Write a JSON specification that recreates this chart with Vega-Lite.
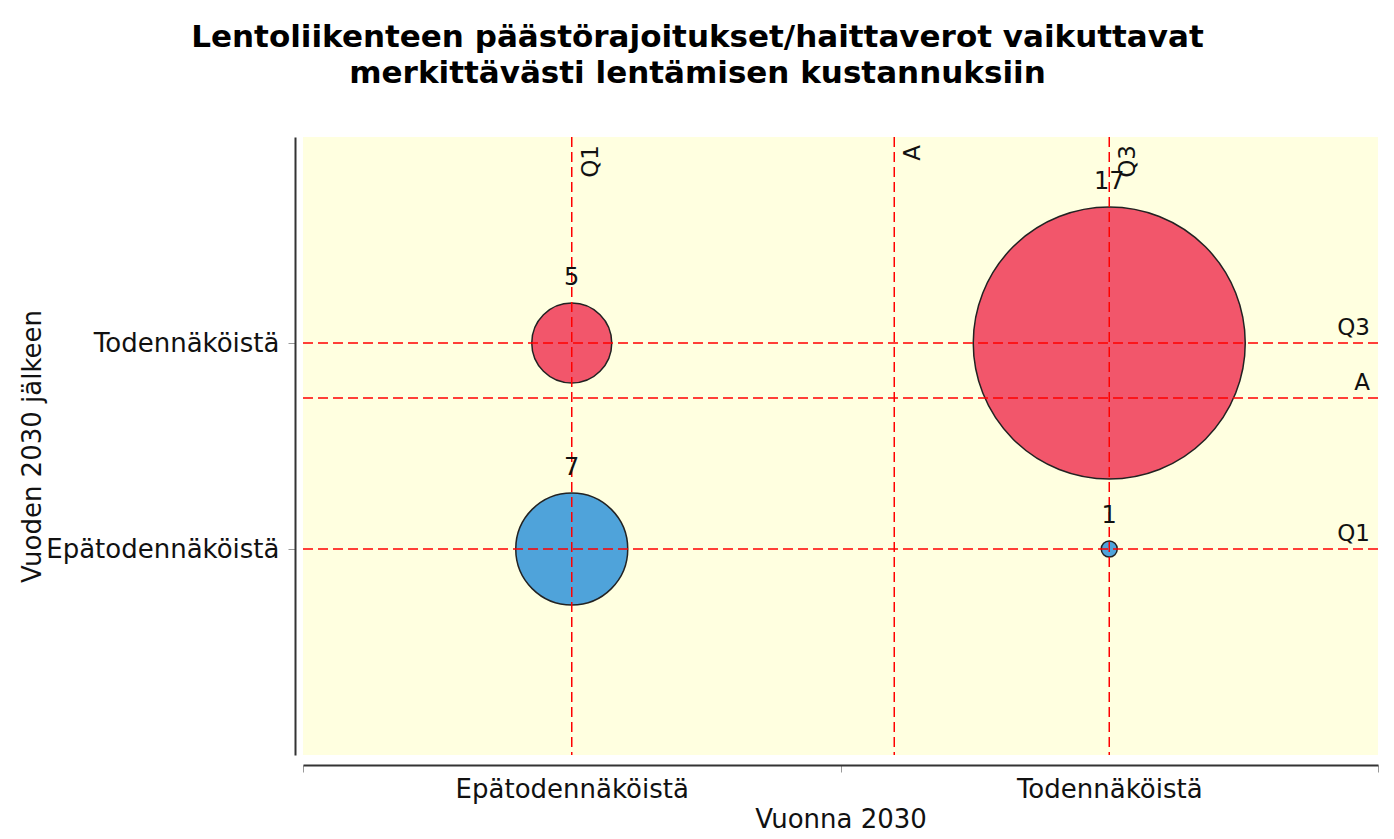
{
  "$schema": "https://vega.github.io/schema/vega-lite/v6.json",
  "width": 1075,
  "height": 618,
  "autosize": {"type": "none"},
  "padding": {"left": 303, "top": 137, "right": 16, "bottom": 84},
  "background": "white",
  "title": {
    "text": ["Lentoliikenteen päästörajoitukset/haittaverot vaikuttavat", "merkittävästi lentämisen kustannuksiin"],
    "font": "DejaVu Sans",
    "fontSize": 31,
    "fontWeight": "bold",
    "lineHeight": 36,
    "anchor": "middle",
    "frame": "group",
    "dx": -143,
    "offset": 46,
    "color": "#000000"
  },
  "config": {
    "view": {"fill": "#ffffe0", "stroke": null},
    "font": "DejaVu Sans",
    "axis": {
      "labelFont": "DejaVu Sans",
      "titleFont": "DejaVu Sans",
      "labelFontSize": 26,
      "titleFontSize": 26,
      "titleFontWeight": "normal",
      "labelColor": "#111111",
      "titleColor": "#111111",
      "domainColor": "#333333",
      "domainWidth": 2,
      "tickColor": "#999999",
      "tickSize": 7,
      "grid": false,
      "labelOverlap": false,
      "labelLimit": 0
    }
  },
  "datasets": {
    "bubbles": [
      {"vuonna": 0, "jalkeen": 1, "count": 5, "ryhma": "Todennäköistä"},
      {"vuonna": 1, "jalkeen": 1, "count": 17, "ryhma": "Todennäköistä"},
      {"vuonna": 0, "jalkeen": 0, "count": 7, "ryhma": "Epätodennäköistä"},
      {"vuonna": 1, "jalkeen": 0, "count": 1, "ryhma": "Epätodennäköistä"}
    ],
    "vlines": [
      {"v": 0, "label": "Q1"},
      {"v": 0.6, "label": "A"},
      {"v": 1, "label": "Q3"}
    ],
    "hlines": [
      {"v": 1, "label": "Q3"},
      {"v": 0.7333, "label": "A"},
      {"v": 0, "label": "Q1"}
    ]
  },
  "layer": [
    {
      "data": {"name": "bubbles"},
      "mark": {"type": "circle", "opacity": 1, "stroke": "#222222", "strokeWidth": 1.5},
      "encoding": {
        "x": {
          "field": "vuonna", "type": "quantitative", "title": "Vuonna 2030",
          "scale": {"domain": [-0.5, 1.5], "nice": false, "zero": false},
          "axis": {
            "values": [-0.5, 0, 0.5, 1, 1.5],
            "labelExpr": "datum.value == 0 ? 'Epätodennäköistä' : datum.value == 1 ? 'Todennäköistä' : ''",
            "tickOpacity": {"condition": {"test": "datum.value == 0 || datum.value == 1", "value": 0}, "value": 1},
            "offset": 10,
            "labelPadding": 4,
            "titlePadding": 4,
            "labelFlush": false
          }
        },
        "y": {
          "field": "jalkeen", "type": "quantitative", "title": "Vuoden 2030 jälkeen",
          "scale": {"domain": [-1, 2], "nice": false, "zero": false},
          "axis": {
            "values": [0, 1],
            "labelExpr": "datum.value == 1 ? 'Todennäköistä' : datum.value == 0 ? 'Epätodennäköistä' : ''",
            "offset": 8,
            "labelPadding": 9,
            "titleX": -263,
            "titleY": 309,
            "titleAngle": 270,
            "titleAlign": "center",
            "titleBaseline": "middle"
          }
        },
        "size": {
          "field": "count", "type": "quantitative",
          "scale": {"type": "pow", "exponent": 2, "domain": [0, 17], "range": [0, 73984]},
          "legend": null
        },
        "color": {
          "field": "ryhma", "type": "nominal",
          "scale": {"domain": ["Todennäköistä", "Epätodennäköistä"], "range": ["#f2566b", "#4fa3da"]},
          "legend": null
        }
      }
    },
    {
      "data": {"name": "vlines"},
      "mark": {"type": "rule", "color": "#ff0000", "strokeWidth": 1.5, "strokeDash": [10, 5]},
      "encoding": {
        "x": {"field": "v", "type": "quantitative", "title": "Vuonna 2030"}
      }
    },
    {
      "data": {"name": "hlines"},
      "mark": {"type": "rule", "color": "#ff0000", "strokeWidth": 1.5, "strokeDash": [10, 5]},
      "encoding": {
        "y": {"field": "v", "type": "quantitative", "title": "Vuoden 2030 jälkeen"}
      }
    },
    {
      "data": {"name": "vlines"},
      "mark": {"type": "text", "angle": 270, "align": "right", "baseline": "top", "dx": -8, "dy": 8, "fontSize": 23, "color": "#111111", "font": "DejaVu Sans"},
      "encoding": {
        "x": {"field": "v", "type": "quantitative", "title": "Vuonna 2030"},
        "y": {"datum": 2, "type": "quantitative"},
        "text": {"field": "label"}
      }
    },
    {
      "data": {"name": "hlines"},
      "mark": {"type": "text", "align": "right", "baseline": "bottom", "dx": -8, "dy": -3, "fontSize": 23, "color": "#111111", "font": "DejaVu Sans"},
      "encoding": {
        "x": {"datum": 1.5, "type": "quantitative"},
        "y": {"field": "v", "type": "quantitative", "title": "Vuoden 2030 jälkeen"},
        "text": {"field": "label"}
      }
    },
    {
      "data": {"name": "bubbles"},
      "mark": {"type": "text", "align": "center", "baseline": "middle", "dy": {"expr": "-(8 * datum.count + 25)"}, "fontSize": 24, "color": "#111111", "font": "DejaVu Sans"},
      "encoding": {
        "x": {"field": "vuonna", "type": "quantitative", "title": "Vuonna 2030"},
        "y": {"field": "jalkeen", "type": "quantitative", "title": "Vuoden 2030 jälkeen"},
        "text": {"field": "count", "type": "quantitative"}
      }
    }
  ]
}
